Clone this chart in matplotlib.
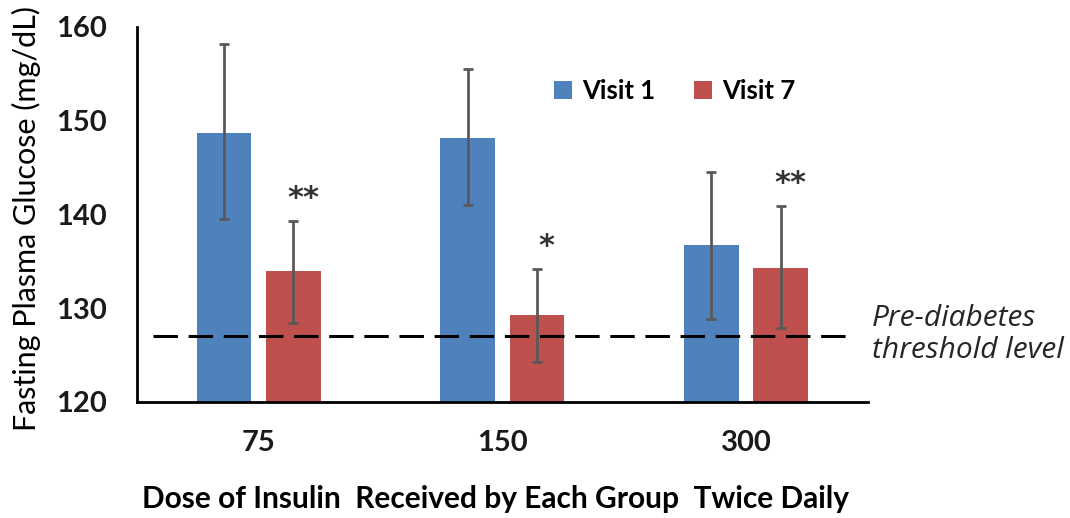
import matplotlib
matplotlib.use("Agg")
import matplotlib.pyplot as plt
import numpy as np

plt.rcParams['font.family'] = ['Lato', 'DejaVu Sans']

# data
doses = ['75', '150', '300']
visit1 = [148.7, 148.2, 136.7]
visit1_err_lo = [139.5, 141.0, 128.8]
visit1_err_hi = [158.2, 155.5, 144.5]
visit7 = [134.0, 129.3, 134.3]
visit7_err_lo = [128.4, 124.3, 127.9]
visit7_err_hi = [139.3, 134.2, 140.9]
stars = ['**', '*', '**']
threshold = 127.0

blue = '#4F81BD'
red = '#C0504D'
err_col = '#595959'

fig = plt.figure(figsize=(10.70, 5.18), dpi=100)
ax = fig.add_axes([0.128, 0.224, 0.683, 0.724])

x = np.arange(len(doses))
w = 0.225
off = 0.1425

v1 = np.array(visit1)
v7 = np.array(visit7)
yerr1 = [v1 - np.array(visit1_err_lo), np.array(visit1_err_hi) - v1]
yerr7 = [v7 - np.array(visit7_err_lo), np.array(visit7_err_hi) - v7]

ax.bar(x - off, v1 - 120, w, bottom=120, color=blue, label='Visit 1', zorder=2)
ax.bar(x + off, v7 - 120, w, bottom=120, color=red, label='Visit 7', zorder=2)
ax.errorbar(x - off, v1, yerr=yerr1, fmt='none', ecolor=err_col, elinewidth=2,
            capsize=3.5, capthick=2, zorder=3)
ax.errorbar(x + off, v7, yerr=yerr7, fmt='none', ecolor=err_col, elinewidth=2,
            capsize=3.5, capthick=2, zorder=3)

# threshold line
ax.plot([-0.434, 2.42], [threshold, threshold], color='black', lw=2.2,
        dashes=(8, 3.5), zorder=4)
ax.text(2.516, threshold + 0.2, 'Pre-diabetes\nthreshold level', style='italic',
        fontsize=21.5, color='#262626', va='center', ha='left', linespacing=1.15,
        clip_on=False, family=['Open Sans', 'DejaVu Sans'])

# significance marks
for i, s in enumerate(stars):
    ax.text(i + off + 0.04, visit7_err_hi[i] + 2.4, s, ha='center', va='center',
            fontsize=22, fontweight='bold', color='#333333', family=['DejaVu Sans'])

ax.set_xlim(-0.5, 2.5)
ax.set_ylim(120, 160)
ax.set_yticks([120, 130, 140, 150, 160])
ax.set_xticks(x)
ax.set_xticklabels(doses)
ax.tick_params(length=0, labelsize=21)
ax.tick_params(axis='y', pad=22)
ax.tick_params(axis='x', pad=20)
for lab in ax.get_xticklabels() + ax.get_yticklabels():
    lab.set_fontweight('bold')
    lab.set_color('#1a1a1a')

for sp in ['top', 'right']:
    ax.spines[sp].set_visible(False)
for sp in ['left', 'bottom']:
    ax.spines[sp].set_linewidth(2)

ax.set_ylabel('Fasting Plasma Glucose (mg/dL)', fontsize=22)
ax.yaxis.set_label_coords(-0.131, 0.49)
ax.set_xlabel('Dose of Insulin  Received by Each Group  Twice Daily',
              fontsize=21.5, fontweight='bold')
ax.xaxis.set_label_coords(0.491, -0.222)

ax.legend(loc='center', bbox_to_anchor=(0.736, 0.829), ncol=2, frameon=False,
          prop={'size': 18.5, 'weight': 'bold'}, handlelength=0.7, handleheight=0.7,
          handletextpad=0.4, columnspacing=1.5)

fig.savefig('out.png', dpi=100)
